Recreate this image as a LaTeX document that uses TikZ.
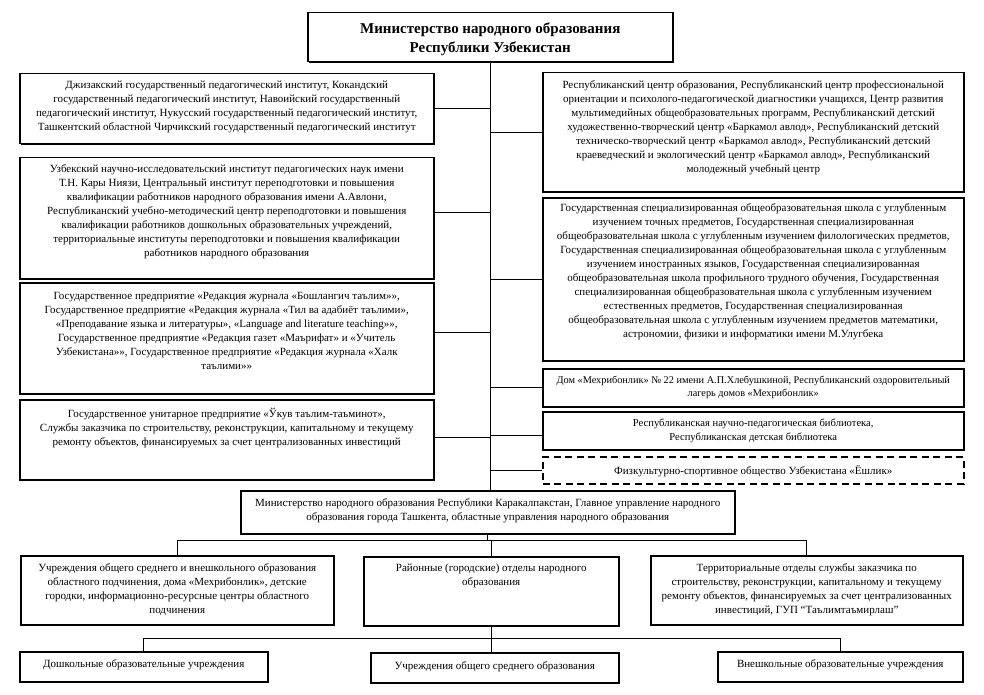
\documentclass[tikz,border=0pt]{standalone}
\usepackage{fontspec}
\setmainfont{Liberation Serif}
\usetikzlibrary{shadows}
\newcommand{\bxt}[4]{\parbox[c][#2][t]{#1}{\centering\vspace*{#3}#4\par}}
\tikzset{
  box/.style={draw, line width=1.5pt, inner sep=0pt, anchor=north west, fill=white,
    drop shadow={shadow xshift=1.1pt, shadow yshift=-1.1pt, fill=black, opacity=1}},
  dbox/.style={draw, line width=1.5pt, dash pattern=on 7pt off 4.5pt, inner sep=0pt, anchor=north west, fill=white},
  conn/.style={line width=0.9pt},
}
\begin{document}
\begin{tikzpicture}[x=1pt,y=-1pt,font=\fontsize{11}{14}\selectfont]
\path[use as bounding box, fill=white] (0,0) rectangle (984,695);

% top
\node[box] (T) at (307,12) {\bxt{365pt}{49pt}{10pt}{\bfseries\fontsize{15}{19}\selectfont Министерство народного образования\\Республики Узбекистан}};

% left column
\node[box] (L1) at (19,73) {\bxt{414pt}{70pt}{7.5pt}{Джизакский государственный педагогический институт, Кокандский\\государственный педагогический институт, Навоийский государственный\\педагогический институт, Нукусский государственный педагогический институт,\\Ташкентский областной Чирчикский государственный педагогический институт}};

\node[box] (L2) at (19,157) {\bxt{414pt}{121pt}{6.5pt}{Узбекский научно-исследовательский институт педагогических наук имени\\Т.Н. Кары Ниязи, Центральный институт переподготовки и повышения\\квалификации работников народного образования имени А.Авлони,\\Республиканский учебно-методический центр переподготовки и повышения\\квалификации работников дошкольных образовательных учреждений,\\территориальные институты переподготовки и повышения квалификации\\работников народного образования}};

\node[box] (L3) at (19,282) {\bxt{414pt}{111pt}{10pt}{Государственное предприятие «Редакция журнала «Бошлангич таълим»»,\\Государственное предприятие «Редакция журнала «Тил ва адабиёт таълими»,\\«Преподавание языка и литературы», «Language and literature teaching»»,\\Государственное предприятие «Редакция газет «Маърифат» и «Учитель\\Узбекистана»», Государственное предприятие «Редакция журнала «Халк\\таълими»»}};

\node[box] (L4) at (19,399) {\bxt{414pt}{80pt}{8pt}{Государственное унитарное предприятие «Ўкув таълим-таъминот»,\\Службы заказчика по строительству, реконструкции, капитальному и текущему\\ремонту объектов, финансируемых за счет централизованных инвестиций}};

% right column
\node[box] (R1) at (542,72) {\bxt{421pt}{119pt}{8pt}{Республиканский центр образования, Республиканский центр профессиональной\\ориентации и психолого-педагогической диагностики учащихся, Центр развития\\мультимедийных общеобразовательных программ, Республиканский детский\\художественно-творческий центр «Баркамол авлод», Республиканский детский\\техническо-творческий центр «Баркамол авлод», Республиканский детский\\краеведческий и экологический центр «Баркамол авлод», Республиканский\\молодежный учебный центр}};

\node[box] (R2) at (542,197) {\bxt{421pt}{163pt}{6pt}{Государственная специализированная общеобразовательная школа с углубленным\\изучением точных предметов, Государственная специализированная\\общеобразовательная школа с углубленным изучением филологических предметов,\\Государственная специализированная общеобразовательная школа с углубленным\\изучением иностранных языков, Государственная специализированная\\общеобразовательная школа профильного трудного обучения, Государственная\\специализированная общеобразовательная школа с углубленным изучением\\естественных предметов, Государственная специализированная\\общеобразовательная школа с углубленным изучением предметов математики,\\астрономии, физики и информатики имени М.Улугбека}};

\node[box] (R3) at (542,368) {\bxt{421pt}{38pt}{7pt}{\fontsize{10.3}{13.5}\selectfont Дом «Мехрибонлик» № 22 имени А.П.Хлебушкиной, Республиканский оздоровительный\\лагерь домов «Мехрибонлик»}};

\node[box] (R4) at (542,411) {\bxt{421pt}{38pt}{7pt}{\fontsize{10.6}{14}\selectfont Республиканская научно-педагогическая библиотека,\\Республиканская детская библиотека}};

\node[dbox] (R5) at (542,456) {\bxt{421pt}{27pt}{9pt}{Физкультурно-спортивное общество Узбекистана «Ёшлик»}};

% regional level
\node[box] (K) at (240,490) {\bxt{494pt}{43pt}{8pt}{Министерство народного образования Республики Каракалпакстан, Главное управление народного\\образования города Ташкента, областные управления народного образования}};

\node[box] (B1) at (20,555) {\bxt{313pt}{69pt}{8pt}{Учреждения общего среднего и внешкольного образования\\областного подчинения, дома «Мехрибонлик», детские\\городки, информационно-ресурсные центры областного\\подчинения}};
\node[box] (B2) at (363,556) {\bxt{255pt}{69pt}{7pt}{Районные (городские) отделы народного\\образования}};
\node[box] (B3) at (650,555) {\bxt{312pt}{69pt}{8pt}{Территориальные отделы службы заказчика по\\строительству, реконструкции, капитальному и текущему\\ремонту объектов, финансируемых за счет централизованных\\инвестиций, ГУП “Таълимтаъмирлаш”}};

\node[box] (D1) at (19,651) {\bxt{248pt}{30pt}{8pt}{Дошкольные образовательные учреждения}};
\node[box] (D2) at (370,652) {\bxt{248pt}{30pt}{8.5pt}{Учреждения общего среднего образования}};
\node[box] (D3) at (717,651) {\bxt{245pt}{30pt}{8pt}{Внешкольные образовательные учреждения}};

% connectors
\coordinate (bus) at (487,540);
\coordinate (bus2) at (490,638);
\draw[conn] (T.south) -- (T.south |- K.north);
\draw[conn] (L1.east) -- (L1.east -| T.south);
\draw[conn] ([yshift=5.5pt]L2.east) -- ([yshift=5.5pt]L2.east -| T.south);
\draw[conn] ([yshift=5.5pt]L3.east) -- ([yshift=5.5pt]L3.east -| T.south);
\draw[conn] ([yshift=2pt]L4.east) -- ([yshift=2pt]L4.east -| T.south);
\draw[conn] (R1.west) -- (R1.west -| T.south);
\draw[conn] (R2.west) -- (R2.west -| T.south);
\draw[conn] (R3.west) -- (R3.west -| T.south);
\draw[conn] ([yshift=-5pt]R4.west) -- ([yshift=-5pt]R4.west -| T.south);
\draw[conn] (R5.west) -- (R5.west -| T.south);
\draw[conn] (K.south) -- (K.south |- bus);
\draw[conn] (B1.north) -- (B1.north |- bus) -- (B3.north |- bus) -- (B3.north);
\draw[conn] (B2.north) -- (B2.north |- bus);
\draw[conn] (B2.south) -- (B2.south |- D2.north);
\draw[conn] (D1.north) -- (D1.north |- bus2) -- (D3.north |- bus2) -- (D3.north);
\end{tikzpicture}
\end{document}
